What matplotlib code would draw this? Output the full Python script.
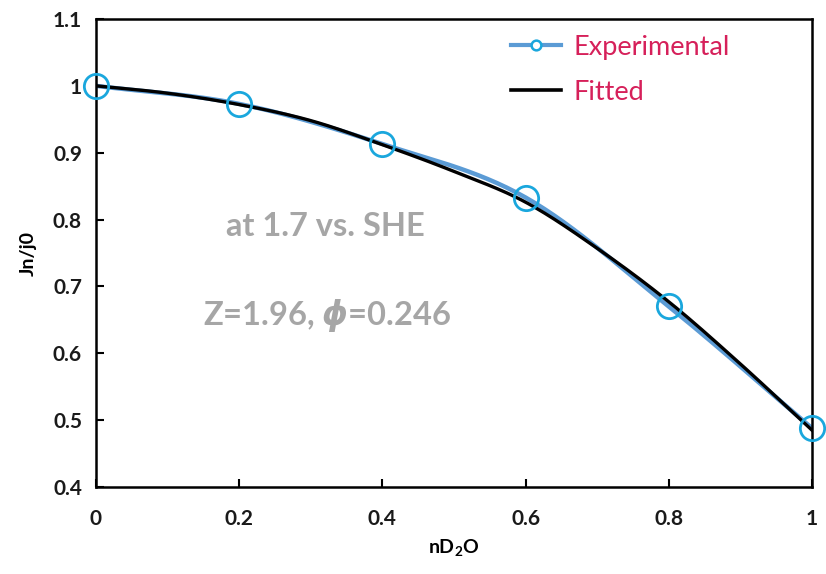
import numpy as np
import matplotlib
matplotlib.use("Agg")
import matplotlib.pyplot as plt
from matplotlib.ticker import FixedLocator
from matplotlib.lines import Line2D

plt.rcParams['font.family'] = ['Lato', 'DejaVu Sans']
plt.rcParams['mathtext.fontset'] = 'custom'
plt.rcParams['mathtext.rm'] = 'Lato:bold'
plt.rcParams['mathtext.it'] = 'DejaVu Sans:italic:bold'
plt.rcParams['mathtext.bf'] = 'Lato:bold'

# Data
x_exp = [0.0, 0.2, 0.4, 0.6, 0.8, 1.0]
y_exp = [1.000, 0.973, 0.913, 0.833, 0.670, 0.488]
x_fit = [0.0, 0.1, 0.2, 0.3, 0.4, 0.5, 0.6, 0.7, 0.8, 0.9, 1.0]
y_fit = [1.000, 0.989, 0.972, 0.948, 0.912, 0.872, 0.826, 0.757, 0.677, 0.584, 0.485]
x_ticks = [0, 0.2, 0.4, 0.6, 0.8, 1]
x_ticklabels = ['0', '0.2', '0.4', '0.6', '0.8', '1']
y_ticks = [0.4, 0.5, 0.6, 0.7, 0.8, 0.9, 1.0, 1.1]
y_ticklabels = ['0.4', '0.5', '0.6', '0.7', '0.8', '0.9', '1', '1.1']


def smooth(xs, ys, n=30):
    """Catmull-Rom smoothing (like Excel's smoothed line)."""
    xs = np.asarray(xs, float)
    ys = np.asarray(ys, float)
    P = np.column_stack([xs, ys])
    P = np.vstack([2 * P[0] - P[1], P, 2 * P[-1] - P[-2]])
    out = []
    for i in range(1, len(P) - 2):
        p0, p1, p2, p3 = P[i - 1], P[i], P[i + 1], P[i + 2]
        t = np.linspace(0, 1, n, endpoint=False)[:, None]
        seg = 0.5 * ((2 * p1) + (-p0 + p2) * t + (2 * p0 - 5 * p1 + 4 * p2 - p3) * t ** 2
                     + (-p0 + 3 * p1 - 3 * p2 + p3) * t ** 3)
        out.append(seg)
    out.append(P[-2][None, :])
    out = np.vstack(out)
    return out[:, 0], out[:, 1]


fig = plt.figure(figsize=(8.26, 5.74), dpi=100)
ax = fig.add_axes([96 / 826, 1 - 487 / 574, (812 - 96) / 826, (487 - 19) / 574])

blue_line = '#5B9BD5'
marker_c = '#1AA7DD'

sx, sy = smooth(x_exp, y_exp)
ax.plot(sx, sy, color=blue_line, lw=3.2, solid_capstyle='round', zorder=2)
fx, fy = smooth(x_fit, y_fit)
ax.plot(fx, fy, color='black', lw=2.4, zorder=3)
ax.plot(x_exp, y_exp, ls='none', marker='o', ms=17.5, mfc='none', mec=marker_c, mew=2.0,
        zorder=4, clip_on=False)

h1 = Line2D([], [], color=blue_line, lw=3, marker='o', ms=7, mfc='white', mec=marker_c, mew=1.8)
h2 = Line2D([], [], color='black', lw=2.6)
leg = ax.legend([h1, h2], ['Experimental', 'Fitted'], loc='upper left',
                bbox_to_anchor=(0.565, 0.99), frameon=False, fontsize=19.5,
                handlelength=1.85, handletextpad=0.45, labelspacing=0.75,
                borderaxespad=0)
for t in leg.get_texts():
    t.set_color('#D6205A')

ax.set_xlim(0, 1)
ax.set_ylim(0.4, 1.1)
ax.xaxis.set_major_locator(FixedLocator(x_ticks))
ax.yaxis.set_major_locator(FixedLocator(y_ticks))
ax.set_xticklabels(x_ticklabels)
ax.set_yticklabels(y_ticklabels)
ax.tick_params(direction='in', length=6, width=1.5, labelsize=15, pad=10, colors='black')
ax.tick_params(axis='x', pad=16)
for lab in ax.get_xticklabels() + ax.get_yticklabels():
    lab.set_fontweight('bold')
    lab.set_color('#1a1a1a')
for s in ax.spines.values():
    s.set_linewidth(1.8)
    s.set_color('black')

ax.set_xlabel(r'nD$_\mathbf{2}$O', fontsize=14, fontweight='bold', labelpad=6)
ax.set_ylabel('Jn/j0', fontsize=14, fontweight='bold', labelpad=12)

grey = '#A6A6A6'
ax.text(0.321, 0.790, 'at 1.7 vs. SHE', fontsize=23.5, fontweight='bold', color=grey,
        ha='center', va='center')
ax.text(0.323, 0.656, r'Z=1.96, $\phi$=0.246', fontsize=23.5, fontweight='bold', color=grey,
        ha='center', va='center')

fig.savefig('out.png', dpi=100)
